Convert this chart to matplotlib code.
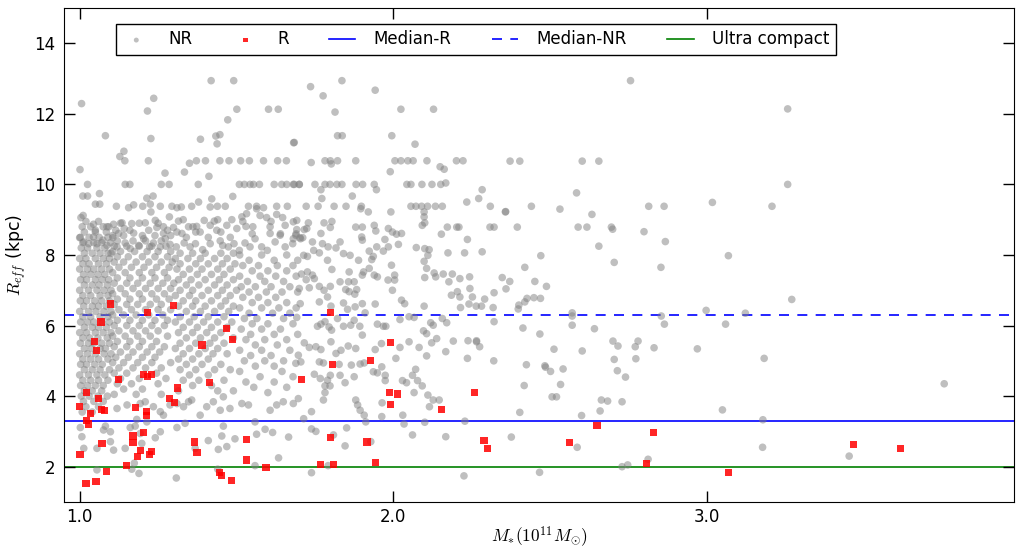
import matplotlib
matplotlib.use('Agg')
import matplotlib.pyplot as plt

plt.rcParams['mathtext.fontset'] = 'cm'
plt.rcParams['font.family'] = ['DejaVu Sans']

# Non-resolved (NR) galaxies, scattered points: (mass, reff)
nr_sparse = [
    (2.756, 12.94), (3.257, 12.14), (2.372, 10.66), (2.403, 10.66), (2.602, 10.66), (2.655, 10.66),
    (2.584, 9.76), (3.257, 10.0), (2.358, 9.23), (2.44, 9.38), (2.531, 9.30), (2.633, 9.15),
    (2.814, 9.38), (2.863, 9.38), (3.017, 9.49), (3.207, 9.38), (2.395, 8.79), (2.589, 8.79),
    (2.617, 8.79), (2.695, 8.79), (2.699, 8.73), (2.799, 8.66), (2.867, 8.38), (2.655, 8.25),
    (2.47, 7.98), (3.068, 7.98), (2.704, 7.79), (2.419, 7.65), (2.853, 7.65),
    (2.347, 7.36), (2.371, 7.25), (2.359, 7.04), (2.451, 7.25), (2.488, 7.11), (2.400, 6.58),
    (2.398, 6.47), (2.419, 6.67), (2.426, 6.77), (2.448, 6.79), (2.469, 6.77), (3.27, 6.74),
    (2.57, 6.36), (2.57, 6.27), (2.57, 6.01), (2.854, 6.27), (2.864, 6.04), (2.997, 6.43),
    (3.122, 6.35), (3.059, 6.04), (2.413, 5.93), (2.467, 5.76), (2.641, 5.91), (2.700, 5.56),
    (2.716, 5.42), (2.771, 5.40), (2.780, 5.56), (2.831, 5.37), (2.969, 5.34), (2.512, 5.33),
    (2.602, 5.28), (2.704, 5.04), (2.773, 5.06), (3.182, 5.07), (2.424, 4.89), (2.483, 4.86),
    (2.485, 4.82), (2.501, 4.70), (2.541, 4.77), (2.714, 4.72), (2.740, 4.54), (3.756, 4.35),
    (2.417, 4.30), (2.533, 4.33), (2.506, 3.98), (2.52, 3.98), (2.663, 3.89), (2.683, 3.86),
    (2.729, 3.84), (2.403, 3.54), (2.659, 3.58), (2.6, 3.45), (3.049, 3.61), (3.178, 3.33),
    (2.376, 2.84), (2.586, 2.55), (3.177, 2.55), (3.453, 2.30), (2.812, 2.21), (2.729, 2.0),
    (2.747, 2.05), (2.466, 1.84),
    # upper left
    (1.419, 12.94), (1.491, 12.94), (1.006, 12.29), (1.236, 12.44), (1.216, 12.08), (1.501, 12.13),
    (1.602, 12.13), (1.633, 12.13), (1.472, 11.83), (1.082, 11.38), (1.227, 11.30), (1.385, 11.28),
    (1.434, 11.37), (1.447, 11.41), (1.438, 11.15), (1.682, 11.18), (1.141, 10.94), (1.128, 10.79),
    (1.144, 10.67), (1.001, 10.42), (1.219, 10.67), (1.272, 10.32), (1.334, 10.35), (1.350, 10.60),
    (1.372, 10.67), (1.401, 10.67), (1.447, 10.67), (1.476, 10.67), (1.513, 10.67), (1.541, 10.67),
    (1.586, 10.67), (1.631, 10.67), (1.659, 10.67), (1.412, 10.23), (1.025, 10.0), (1.145, 10.0),
    (1.16, 10.0), (1.26, 10.0), (1.285, 10.0), (1.378, 10.0), (1.509, 10.0), (1.525, 10.0),
    (1.543, 10.0), (1.554, 10.0), (1.573, 10.0), (1.62, 10.0), (1.644, 10.0), (1.66, 10.0),
    (1.681, 10.0), (1.70, 10.0), (1.01, 9.67), (1.025, 9.67), (1.063, 9.74), (1.214, 9.61),
    (1.234, 9.67), (1.488, 9.66), (1.421, 9.59),
    # upper middle
    (1.836, 12.94), (1.736, 12.77), (1.776, 12.51), (1.942, 12.67), (1.814, 12.05), (2.024, 12.13),
    (2.128, 12.13), (1.684, 11.19), (1.822, 11.38), (1.837, 11.38), (1.995, 11.38), (2.069, 11.14),
    (1.738, 10.62), (1.782, 10.67), (1.799, 10.67), (1.802, 10.58), (1.822, 10.67), (1.880, 10.67),
    (2.005, 10.67), (2.024, 10.67), (2.046, 10.67), (2.063, 10.67), (2.107, 10.67), (2.149, 10.50),
    (2.162, 10.43), (2.201, 10.67), (2.222, 10.67), (1.99, 10.36), (1.684, 10.0), (1.700, 10.0),
    (1.750, 10.0), (1.782, 10.0), (1.798, 10.0), (1.820, 10.0), (1.836, 10.0), (1.881, 10.0),
    (1.902, 10.0), (1.939, 10.0), (1.769, 9.85), (1.946, 9.85), (2.043, 10.0), (2.056, 10.0),
    (2.091, 10.0), (2.123, 10.0), (2.151, 10.0), (2.167, 10.04), (2.283, 9.85), (1.772, 9.60),
    (1.869, 9.67), (2.272, 9.60), (2.234, 9.50), (1.722, 9.38), (1.760, 9.38), (1.811, 9.38),
    (1.849, 9.38), (1.898, 9.38), (2.056, 9.38), (2.072, 9.38), (2.090, 9.38), (2.109, 9.38),
    (2.134, 9.38), (2.156, 9.38), (2.309, 9.38),
    # middle band 1.7 - 2.4
    (1.896, 9.31), (1.920, 9.22), (1.992, 9.22), (2.098, 9.22), (2.098, 9.08), (2.357, 9.22),
    (1.692, 8.98), (1.729, 8.91), (1.779, 8.91), (1.804, 8.95), (1.799, 8.78), (1.724, 8.75),
    (1.716, 8.72), (1.689, 8.56), (1.769, 8.61), (1.880, 8.79), (1.901, 8.79), (1.939, 8.84),
    (1.944, 8.68), (1.984, 8.75), (1.997, 8.65), (2.010, 8.59), (2.026, 8.61), (2.092, 8.84),
    (2.100, 8.91), (2.172, 8.79), (2.202, 8.79), (2.209, 8.79), (2.308, 8.79), (2.321, 8.79),
    (2.153, 8.59), (2.236, 8.44), (2.283, 8.09), (2.227, 8.06), (2.174, 8.06), (2.114, 8.15),
    (2.100, 8.18), (2.110, 7.99), (2.098, 7.82), (2.106, 7.62), (1.711, 8.49), (1.742, 8.37),
    (1.774, 8.32), (1.792, 8.23), (1.817, 8.20), (1.830, 8.37), (1.841, 8.04), (1.746, 8.13),
    (1.764, 8.06), (1.790, 7.85), (1.714, 7.99), (1.726, 7.96), (1.862, 7.99), (1.889, 7.85),
    (1.899, 8.51), (1.901, 8.42), (1.923, 8.11), (1.931, 7.87), (1.936, 7.96), (1.947, 8.23),
    (1.968, 8.11), (1.973, 8.44), (1.984, 8.23), (1.994, 7.71), (2.016, 8.30), (2.073, 8.21),
    (1.707, 7.46), (1.726, 7.52), (1.742, 7.43), (1.748, 7.33), (1.722, 7.30), (1.804, 7.59),
    (1.700, 7.05), (1.732, 7.07), (1.764, 7.11), (1.779, 7.00), (1.790, 6.81), (1.799, 7.11),
    (1.830, 7.24), (1.848, 7.02), (1.857, 7.24), (1.859, 6.96), (1.875, 7.24), (1.883, 7.02),
    (1.877, 6.89), (1.859, 7.52), (1.901, 7.43), (1.905, 7.52), (1.923, 7.62), (1.939, 7.43),
    (1.949, 7.38), (1.983, 7.29), (1.997, 7.00), (2.004, 7.43), (2.004, 7.29), (2.100, 7.36),
    (2.130, 7.49), (2.135, 7.38), (2.159, 7.46), (2.177, 7.24), (2.188, 7.46), (2.212, 7.33),
    (2.243, 7.38), (2.185, 6.86), (2.204, 6.96), (2.212, 6.81), (2.244, 7.05), (2.252, 6.81),
    (2.291, 6.75), (2.321, 6.93), (1.703, 6.62), (1.764, 6.67), (1.801, 6.55), (1.841, 6.64),
    (1.854, 6.46), (1.878, 6.53), (1.901, 6.62), (1.910, 6.36), (1.942, 6.61), (2.026, 6.72),
    (2.036, 6.62), (2.098, 6.55), (2.214, 6.51), (2.241, 6.61), (2.264, 6.55), (2.281, 6.55),
    (2.318, 6.51), (1.692, 6.23), (1.758, 5.98), (1.769, 6.04), (1.782, 6.11), (1.795, 5.96),
    (1.803, 5.87), (1.822, 6.20), (1.841, 5.98), (1.864, 6.01), (1.875, 6.15), (1.893, 5.98),
    (1.901, 5.73), (1.949, 6.04), (1.968, 5.98), (1.976, 5.98), (2.021, 6.17), (2.050, 6.25),
    (2.066, 6.23), (2.096, 5.85), (2.106, 5.77), (2.119, 6.08), (2.127, 6.01), (2.138, 5.63),
    (2.156, 6.20), (2.170, 6.08), (2.238, 5.57), (2.265, 5.57), (2.321, 6.11),
    # lower middle
    (1.716, 5.51), (1.732, 5.38), (1.753, 5.40), (1.769, 5.32), (1.697, 5.16), (1.705, 4.97),
    (1.689, 4.93), (1.801, 5.54), (1.817, 5.21), (1.833, 5.30), (1.856, 5.42), (1.880, 5.35),
    (1.764, 4.97), (1.777, 4.94), (1.827, 4.90), (1.866, 4.88), (1.894, 4.91), (1.907, 4.94),
    (1.748, 4.62), (1.767, 4.50), (1.790, 4.45), (1.782, 4.29), (1.798, 4.29), (1.782, 4.10),
    (1.777, 3.89), (1.799, 4.59), (1.830, 4.59), (1.846, 4.38), (1.875, 4.55), (1.697, 3.93),
    (1.739, 3.56), (1.714, 3.36), (1.942, 5.32), (1.962, 5.49), (2.008, 5.07), (2.021, 5.38),
    (2.050, 5.54), (2.082, 5.38), (2.106, 5.14), (2.122, 5.51), (2.167, 5.26), (2.191, 5.56),
    (2.236, 5.07), (2.265, 5.54), (2.275, 5.40), (2.320, 5.00), (1.936, 4.69), (1.949, 4.66),
    (1.963, 4.83), (1.974, 4.59), (1.974, 4.44), (2.029, 4.44), (2.042, 4.38), (2.061, 4.59),
    (2.071, 4.76), (2.077, 4.44), (2.092, 4.29), (2.066, 4.10), (2.110, 4.03), (2.127, 3.89),
    (2.146, 3.89), (2.115, 3.70), (1.880, 3.89), (1.886, 3.75), (1.894, 3.60), (1.907, 3.46),
    (1.912, 3.27), (1.964, 3.81), (2.030, 3.46), (1.963, 3.42), (2.034, 3.21), (2.100, 3.26),
    (2.228, 3.29), (1.739, 3.07), (1.753, 3.00), (1.809, 2.90), (1.851, 3.10), (1.846, 2.59),
    (1.928, 2.71), (2.061, 2.90), (2.167, 2.85), (1.792, 2.03), (1.739, 1.83), (2.225, 1.74),
    # lower left
    (1.119, 3.65), (1.151, 3.75), (1.193, 3.79), (1.209, 3.84), (1.235, 3.70), (1.257, 3.56),
    (1.267, 3.46), (1.288, 3.75), (1.310, 3.79), (1.331, 3.70), (1.347, 3.84), (1.357, 3.89),
    (1.384, 3.46), (1.405, 3.70), (1.426, 3.84), (1.448, 3.60), (1.458, 3.98), (1.479, 3.65),
    (1.517, 3.79), (1.538, 3.75), (1.607, 3.60), (1.628, 3.75), (1.649, 3.84), (1.681, 3.79),
    (1.002, 3.11), (1.007, 2.85), (1.013, 2.52), (1.055, 2.52), (1.076, 3.04), (1.082, 3.15),
    (1.098, 2.99), (1.098, 2.71), (1.108, 2.47), (1.145, 2.52), (1.161, 3.11), (1.177, 3.15),
    (1.182, 3.34), (1.193, 2.94), (1.198, 2.66), (1.214, 3.27), (1.241, 2.82), (1.257, 2.99),
    (1.310, 3.11), (1.336, 3.23), (1.368, 2.52), (1.410, 2.74), (1.442, 2.49), (1.453, 2.87),
    (1.458, 3.15), (1.469, 2.57), (1.495, 2.79), (1.559, 3.27), (1.564, 2.92), (1.591, 3.06),
    (1.615, 2.97), (1.634, 2.25), (1.666, 2.84), (1.055, 1.91), (1.166, 1.93), (1.174, 2.10),
    (1.189, 1.81), (1.308, 1.68), (1.440, 1.93), (1.559, 2.03),
    # upper rows of the dense cloud
    (1.050, 9.44), (1.064, 9.44), (1.117, 9.38), (1.156, 9.34), (1.172, 9.42), (1.201, 9.38),
    (1.225, 9.44), (1.257, 9.38), (1.294, 9.38), (1.310, 9.34), (1.324, 9.36), (1.357, 9.38),
    (1.379, 9.50), (1.416, 9.36), (1.439, 9.38), (1.464, 9.38), (1.538, 9.38), (1.564, 9.38),
    (1.586, 9.34), (1.628, 9.38), (1.662, 9.38), (1.011, 9.12), (1.004, 9.06), (1.044, 8.87),
    (1.050, 8.70), (1.087, 8.80), (1.108, 8.87), (1.135, 8.91), (1.166, 8.89), (1.124, 8.61),
    (1.142, 8.75), (1.172, 8.62), (1.209, 8.91), (1.227, 9.22), (1.241, 8.98), (1.246, 8.78),
    (1.267, 8.80), (1.267, 8.61), (1.286, 9.08), (1.299, 8.78), (1.315, 8.96), (1.326, 8.61),
    (1.347, 8.80), (1.361, 8.80), (1.373, 8.81), (1.384, 8.65), (1.397, 8.98), (1.416, 8.84),
    (1.429, 8.96), (1.437, 8.70), (1.469, 8.84), (1.485, 9.00), (1.501, 8.75), (1.517, 9.08),
    (1.530, 8.81), (1.532, 9.17), (1.552, 8.80), (1.564, 9.31), (1.575, 9.12), (1.596, 9.06),
    (1.628, 9.15), (1.647, 9.06), (1.655, 8.84), (1.681, 8.94), (1.692, 8.72), (1.607, 8.80),
    (1.607, 8.61), (1.639, 8.56), (1.681, 8.46), (1.702, 8.49), (1.000, 8.49), (1.013, 8.37),
    (1.044, 8.51), (1.029, 8.32), (1.055, 8.32), (1.074, 8.42), (1.087, 8.27), (1.106, 8.49),
    (1.119, 8.23), (1.145, 8.34), (1.161, 8.18), (1.188, 8.27), (1.204, 8.46), (1.223, 8.23),
    (1.235, 8.34), (1.257, 8.23), (1.273, 8.46), (1.288, 8.30), (1.308, 8.23), (1.333, 8.34),
    (1.352, 8.23), (1.369, 8.32), (1.392, 8.15), (1.416, 8.32), (1.448, 8.40), (1.456, 8.27),
    (1.474, 8.23), (1.492, 8.32), (1.509, 8.13), (1.527, 8.34), (1.543, 8.23), (1.559, 8.46),
    (1.580, 8.23), (1.598, 8.13), (1.623, 8.37), (1.655, 8.23), (1.679, 8.32), (1.704, 8.46),
]

# Dense cloud at low mass, estimated row by row: (reff, [masses])
nr_dense_rows = [
    (8.95, [1.02, 1.06]), (8.80, [1.008, 1.035, 1.075, 1.093]), (8.65, [1.015, 1.05, 1.085]),
    (8.50, [1.002, 1.03, 1.062, 1.09]), (8.35, [1.01, 1.045, 1.07, 1.098]),
    (8.20, [1.005, 1.025, 1.055, 1.08]), (8.05, [1.015, 1.04, 1.065, 1.09, 1.10]),
    (7.90, [1.0, 1.02, 1.05, 1.075, 1.095]), (7.75, [1.01, 1.03, 1.06, 1.085]),
    (7.60, [1.0, 1.025, 1.045, 1.07, 1.095]), (7.45, [1.012, 1.035, 1.058, 1.08]),
    (7.30, [1.003, 1.022, 1.05, 1.072, 1.092]), (7.15, [1.015, 1.04, 1.062, 1.088]),
    (7.00, [1.0, 1.028, 1.055, 1.078, 1.1]), (6.85, [1.01, 1.035, 1.065, 1.09]),
    (6.70, [1.002, 1.022, 1.048, 1.07, 1.095]), (6.55, [1.013, 1.04, 1.06, 1.085]),
    (6.40, [1.0, 1.028, 1.052, 1.077, 1.1]), (6.25, [1.01, 1.035, 1.065, 1.09]),
    (6.10, [1.003, 1.025, 1.045, 1.072, 1.095]), (5.95, [1.015, 1.04, 1.06, 1.085]),
    (5.80, [1.0, 1.022, 1.05, 1.075, 1.1]), (5.65, [1.01, 1.032, 1.058, 1.088]),
    (5.50, [1.002, 1.028, 1.045, 1.07, 1.095]), (5.35, [1.015, 1.038, 1.065, 1.082]),
    (5.20, [1.0, 1.025, 1.05, 1.078, 1.1]), (5.05, [1.01, 1.035, 1.06, 1.09]),
    (4.90, [1.003, 1.022, 1.048, 1.072]), (4.75, [1.015, 1.04, 1.065, 1.095]),
    (4.60, [1.0, 1.028, 1.055, 1.08]), (4.45, [1.01, 1.035, 1.06, 1.09]),
    (4.30, [1.003, 1.025, 1.05, 1.075]), (4.15, [1.015, 1.04, 1.07]),
    (4.00, [1.005, 1.03, 1.058, 1.088]), (3.85, [1.012, 1.045, 1.075]),
    (3.70, [1.02, 1.06]), (3.55, [1.008, 1.04]),
    # 1.1 - 1.3
    (8.90, [1.13, 1.19, 1.25]), (8.70, [1.115, 1.16, 1.22, 1.28]),
    (8.55, [1.105, 1.14, 1.2, 1.24, 1.29]), (8.40, [1.12, 1.17, 1.21, 1.26]),
    (8.25, [1.11, 1.15, 1.19, 1.23, 1.275]), (8.10, [1.105, 1.13, 1.175, 1.215, 1.25, 1.29]),
    (7.95, [1.12, 1.155, 1.2, 1.24, 1.28]), (7.80, [1.11, 1.14, 1.18, 1.22, 1.26, 1.295]),
    (7.65, [1.125, 1.165, 1.205, 1.245, 1.285]), (7.50, [1.105, 1.145, 1.19, 1.23, 1.27]),
    (7.35, [1.12, 1.16, 1.2, 1.24, 1.28]), (7.20, [1.11, 1.15, 1.185, 1.225, 1.265, 1.3]),
    (7.05, [1.13, 1.17, 1.21, 1.25, 1.29]), (6.90, [1.105, 1.145, 1.19, 1.23, 1.27]),
    (6.75, [1.12, 1.16, 1.2, 1.245, 1.285]), (6.60, [1.11, 1.15, 1.185, 1.225, 1.26]),
    (6.45, [1.125, 1.165, 1.21, 1.25, 1.29]), (6.30, [1.105, 1.14, 1.18, 1.22, 1.265]),
    (6.15, [1.12, 1.16, 1.2, 1.24, 1.28]), (6.00, [1.11, 1.15, 1.19, 1.23, 1.27]),
    (5.85, [1.125, 1.17, 1.21, 1.25]), (5.70, [1.105, 1.145, 1.185, 1.225, 1.28]),
    (5.55, [1.12, 1.16, 1.2, 1.245]), (5.40, [1.11, 1.15, 1.19, 1.23, 1.27]),
    (5.25, [1.13, 1.17, 1.215, 1.255]), (5.10, [1.115, 1.155, 1.2, 1.24]),
    (4.95, [1.105, 1.14, 1.185, 1.23, 1.29]), (4.80, [1.125, 1.17, 1.21, 1.26]),
    (4.65, [1.11, 1.15, 1.245]), (4.50, [1.13, 1.19, 1.275]), (4.35, [1.12, 1.165, 1.25]),
    (4.20, [1.14, 1.2]), (4.05, [1.11, 1.18, 1.26]),
    # 1.3 - 1.5
    (9.00, [1.33, 1.44]), (8.65, [1.31, 1.37, 1.45]), (8.50, [1.34, 1.41, 1.48]),
    (8.05, [1.32, 1.36, 1.40, 1.45, 1.49]), (7.90, [1.305, 1.345, 1.385, 1.43, 1.47]),
    (7.75, [1.32, 1.37, 1.41, 1.455, 1.495]), (7.60, [1.31, 1.35, 1.39, 1.44, 1.48]),
    (7.45, [1.33, 1.375, 1.42, 1.46]), (7.30, [1.315, 1.355, 1.40, 1.445, 1.49]),
    (7.15, [1.34, 1.38, 1.43, 1.47]), (7.00, [1.32, 1.36, 1.41, 1.455, 1.50]),
    (6.85, [1.305, 1.35, 1.39, 1.44, 1.48]), (6.70, [1.33, 1.37, 1.42, 1.465]),
    (6.55, [1.315, 1.36, 1.40, 1.45, 1.49]), (6.40, [1.34, 1.385, 1.43, 1.475]),
    (6.25, [1.32, 1.365, 1.41, 1.46]), (6.10, [1.305, 1.35, 1.395, 1.44, 1.485]),
    (5.95, [1.33, 1.375, 1.42, 1.47]), (5.80, [1.315, 1.36, 1.405, 1.45]),
    (5.65, [1.34, 1.385, 1.43, 1.49]), (5.50, [1.32, 1.37, 1.415, 1.46]),
    (5.35, [1.305, 1.35, 1.40, 1.44]), (5.20, [1.33, 1.38, 1.425, 1.47]),
    (5.05, [1.315, 1.36, 1.41]), (4.90, [1.34, 1.39, 1.45]), (4.75, [1.32, 1.37, 1.43, 1.48]),
    (4.60, [1.35, 1.41]), (4.45, [1.33, 1.38, 1.46]), (4.30, [1.36, 1.42]),
    (4.15, [1.315, 1.44, 1.49]),
    # 1.5 - 1.7
    (8.95, [1.52, 1.61]), (8.60, [1.55, 1.64, 1.69]), (8.00, [1.51, 1.58, 1.66]),
    (7.85, [1.54, 1.62, 1.695]), (7.70, [1.52, 1.57, 1.63, 1.68]), (7.55, [1.55, 1.60, 1.66]),
    (7.40, [1.51, 1.575, 1.625, 1.69]), (7.25, [1.535, 1.59, 1.65]),
    (7.10, [1.515, 1.56, 1.61, 1.67]), (6.95, [1.54, 1.595, 1.645, 1.695]),
    (6.80, [1.52, 1.57, 1.625]), (6.65, [1.55, 1.60, 1.66]), (6.50, [1.51, 1.58, 1.635, 1.69]),
    (6.35, [1.54, 1.615, 1.67]), (6.20, [1.525, 1.565, 1.65]), (6.05, [1.55, 1.60, 1.68]),
    (5.90, [1.515, 1.58, 1.64]), (5.75, [1.545, 1.62, 1.695]), (5.60, [1.53, 1.59, 1.66]),
    (5.45, [1.56, 1.63]), (5.30, [1.51, 1.58, 1.67]), (5.15, [1.545, 1.61]),
    (5.00, [1.525, 1.59, 1.65]), (4.85, [1.56, 1.62]), (4.70, [1.51, 1.645]),
    (4.55, [1.575, 1.68]), (4.40, [1.53, 1.62]), (4.25, [1.555, 1.66]), (4.10, [1.60]),
]

# Resolved (R) galaxies
r_mass = [1.0, 1.001, 1.02, 1.052, 1.022, 1.023, 1.029, 1.035, 1.048, 1.054, 1.06, 1.068,
          1.07, 1.08, 1.071, 1.086, 1.099, 1.124, 1.149, 1.17, 1.17, 1.177, 1.185, 1.195,
          1.204, 1.204, 1.217, 1.228, 1.212, 1.212, 1.215, 1.223, 1.229, 1.285, 1.299, 1.302,
          1.313, 1.365, 1.374, 1.39, 1.413, 1.445, 1.452, 1.469, 1.484, 1.486, 1.532, 1.532,
          1.594, 1.707, 1.768, 1.799, 1.80, 1.805, 1.81, 1.916, 1.928, 1.942, 1.987, 1.99,
          1.99, 2.014, 2.152, 2.259, 2.289, 2.301, 2.561, 2.649, 2.829, 2.808, 3.068, 3.467,
          3.616]
r_reff = [3.71, 2.35, 1.52, 1.57, 4.11, 3.30, 3.21, 3.51, 5.55, 5.30, 3.92, 6.10,
          3.62, 3.58, 2.67, 1.87, 6.61, 4.47, 2.03, 2.87, 2.69, 3.69, 2.30, 2.45,
          2.98, 4.60, 4.55, 4.60, 3.56, 3.45, 6.36, 2.34, 2.42, 3.94, 6.56, 3.82,
          4.23, 2.70, 2.41, 5.45, 4.39, 1.83, 1.75, 5.91, 1.61, 5.61, 2.78, 2.19,
          1.97, 4.48, 2.05, 6.36, 2.84, 4.89, 2.07, 2.70, 5.00, 2.11, 4.09, 3.77,
          5.51, 4.06, 3.62, 4.11, 2.74, 2.51, 2.69, 3.16, 2.96, 2.10, 1.83, 2.62,
          2.51]

median_r = 3.3
median_nr = 6.3
ultra_compact = 2.0

nr_mass = [p[0] for p in nr_sparse]
nr_reff = [p[1] for p in nr_sparse]
for reff, masses in nr_dense_rows:
    for m in masses:
        nr_mass.append(m)
        nr_reff.append(reff)

fig = plt.figure(figsize=(10.16, 5.5), dpi=100)
ax = fig.add_axes([0.063, 0.0873, 0.9355, 0.8982])

ax.scatter(nr_mass, nr_reff, s=30, color='#808080', alpha=0.5, edgecolors='none',
           label='NR', zorder=2)
ax.scatter(r_mass, r_reff, s=26, marker='s', color='#ff0000', alpha=0.85,
           edgecolors='none', label='R', zorder=3)
ax.axhline(median_r, color='blue', lw=1.2, label='Median-R', zorder=1)
ax.axhline(median_nr, color='blue', lw=1.2, ls='--', dashes=(6, 5), label='Median-NR', zorder=1)
ax.axhline(ultra_compact, color='green', lw=1.2, label='Ultra compact', zorder=1)

ax.set_xlim(0.95, 3.98)
ax.set_ylim(1, 15)
ax.set_xticks([1.0, 2.0, 3.0])
ax.set_xticklabels(['1.0', '2.0', '3.0'])
ax.set_yticks([2, 4, 6, 8, 10, 12, 14])
ax.tick_params(direction='in', length=8, width=1, top=True, right=True, labelsize=12)
ax.tick_params(axis='x', pad=4)
ax.tick_params(axis='y', pad=6)

ax.set_xlabel(r'$M_{*}(10^{11}M_{\odot})$', fontsize=12.5, labelpad=-1)
ax.set_ylabel(r'$R_{eff}$ (kpc)', fontsize=12.5)

leg = ax.legend(loc='upper left', bbox_to_anchor=(0.055, 0.968), borderaxespad=0,
                ncol=5, fontsize=12, scatterpoints=1, fancybox=False, framealpha=1,
                edgecolor='black', handlelength=1.6, handletextpad=1.1,
                columnspacing=2.4, markerscale=0.65)
leg.get_frame().set_linewidth(1.0)

fig.savefig('out.png', dpi=100, facecolor='white')
